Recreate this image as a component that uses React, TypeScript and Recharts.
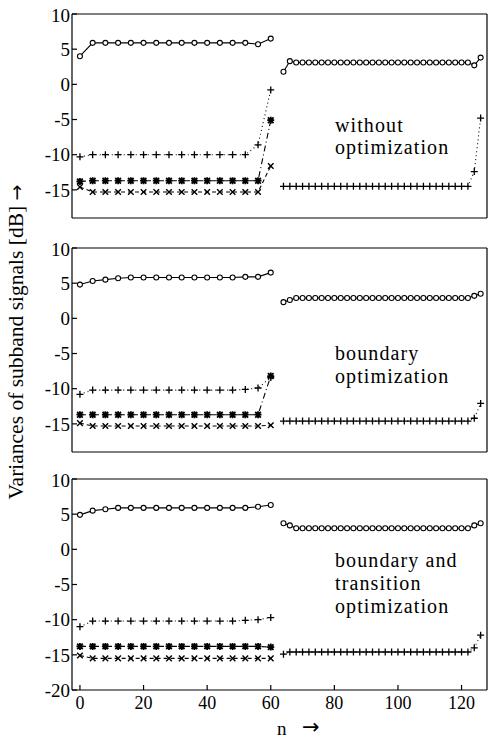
import { LineChart, Line, XAxis, YAxis } from 'recharts';

// sample positions: 4 subbands decimated by 4 in the first half, 2 subbands decimated by 2 after
const N_LOW = [0, 4, 8, 12, 16, 20, 24, 28, 32, 36, 40, 44, 48, 52, 56, 60];
const N_HIGH = [
  64, 66, 68, 70, 72, 74, 76, 78, 80, 82, 84, 86, 88, 90, 92, 94,
  96, 98, 100, 102, 104, 106, 108, 110, 112, 114, 116, 118, 120, 122, 124, 126,
];

const X_TICKS = [0, 20, 40, 60, 80, 100, 120];
const Y_TICKS_UPPER = [-15, -10, -5, 0, 5, 10];
const Y_TICKS_LOWER = [-20, -15, -10, -5, 0, 5, 10];

// without optimization
const A_CIRCLE_LOW = [4.0, 5.9, 5.9, 5.9, 5.9, 5.9, 5.9, 5.9, 5.9, 5.9, 5.9, 5.9, 5.9, 5.9, 5.7, 6.5];
const A_PLUS_LOW = [-10.3, -10.0, -10.0, -10.0, -10.0, -10.0, -10.0, -10.0, -10.0, -10.0, -10.0, -10.0, -10.0, -10.0, -8.6, -0.8];
const A_STAR_LOW = [-13.8, -13.7, -13.7, -13.7, -13.7, -13.7, -13.7, -13.7, -13.7, -13.7, -13.7, -13.7, -13.7, -13.7, -13.7, -5.1];
const A_CROSS_LOW = [-14.6, -15.3, -15.3, -15.3, -15.3, -15.3, -15.3, -15.3, -15.3, -15.3, -15.3, -15.3, -15.3, -15.3, -15.3, -11.6];
const A_CIRCLE_HIGH = [
  1.8, 3.3, 3.1, 3.1, 3.1, 3.1, 3.1, 3.1, 3.1, 3.1, 3.1, 3.1, 3.1, 3.1, 3.1, 3.1,
  3.1, 3.1, 3.1, 3.1, 3.1, 3.1, 3.1, 3.1, 3.1, 3.1, 3.1, 3.1, 3.1, 3.1, 2.7, 3.8,
];
const A_PLUS_HIGH = [
  -14.5, -14.5, -14.5, -14.5, -14.5, -14.5, -14.5, -14.5, -14.5, -14.5, -14.5, -14.5, -14.5, -14.5, -14.5, -14.5,
  -14.5, -14.5, -14.5, -14.5, -14.5, -14.5, -14.5, -14.5, -14.5, -14.5, -14.5, -14.5, -14.5, -14.5, -12.4, -4.8,
];

// boundary optimization
const B_CIRCLE_LOW = [4.8, 5.3, 5.5, 5.7, 5.8, 5.8, 5.8, 5.8, 5.8, 5.8, 5.8, 5.8, 5.8, 5.9, 5.9, 6.5];
const B_PLUS_LOW = [-10.8, -10.2, -10.2, -10.2, -10.2, -10.2, -10.2, -10.2, -10.2, -10.2, -10.2, -10.2, -10.2, -10.1, -9.9, -8.4];
const B_STAR_LOW = [-13.7, -13.7, -13.7, -13.7, -13.7, -13.7, -13.7, -13.7, -13.7, -13.7, -13.7, -13.7, -13.7, -13.7, -13.7, -8.2];
const B_CROSS_LOW = [-14.9, -15.3, -15.3, -15.3, -15.3, -15.3, -15.3, -15.3, -15.3, -15.3, -15.3, -15.3, -15.3, -15.3, -15.3, -15.2];
const B_CIRCLE_HIGH = [
  2.3, 2.6, 2.9, 2.9, 2.9, 2.9, 2.9, 2.9, 2.9, 2.9, 2.9, 2.9, 2.9, 2.9, 2.9, 2.9,
  2.9, 2.9, 2.9, 2.9, 2.9, 2.9, 2.9, 2.9, 2.9, 2.9, 2.9, 2.9, 2.9, 2.9, 3.2, 3.5,
];
const B_PLUS_HIGH = [
  -14.6, -14.6, -14.6, -14.6, -14.6, -14.6, -14.6, -14.6, -14.6, -14.6, -14.6, -14.6, -14.6, -14.6, -14.6, -14.6,
  -14.6, -14.6, -14.6, -14.6, -14.6, -14.6, -14.6, -14.6, -14.6, -14.6, -14.6, -14.6, -14.6, -14.6, -14.2, -12.1,
];

// boundary and transition optimization
const C_CIRCLE_LOW = [4.9, 5.5, 5.7, 5.9, 5.9, 5.9, 5.9, 5.9, 5.9, 5.9, 5.9, 5.9, 5.9, 5.9, 6.05, 6.3];
const C_PLUS_LOW = [-11.0, -10.2, -10.2, -10.2, -10.2, -10.2, -10.2, -10.2, -10.2, -10.2, -10.2, -10.2, -10.2, -10.1, -10.0, -9.7];
const C_STAR_LOW = [-13.8, -13.8, -13.8, -13.8, -13.8, -13.8, -13.8, -13.8, -13.8, -13.8, -13.8, -13.8, -13.8, -13.8, -13.8, -13.9];
const C_CROSS_LOW = [-15.1, -15.5, -15.5, -15.5, -15.5, -15.5, -15.5, -15.5, -15.5, -15.5, -15.5, -15.5, -15.5, -15.5, -15.5, -15.5];
const C_CIRCLE_HIGH = [
  3.7, 3.4, 3.0, 3.0, 3.0, 3.0, 3.0, 3.0, 3.0, 3.0, 3.0, 3.0, 3.0, 3.0, 3.0, 3.0,
  3.0, 3.0, 3.0, 3.0, 3.0, 3.0, 3.0, 3.0, 3.0, 3.0, 3.0, 3.0, 3.0, 3.0, 3.4, 3.7,
];
const C_PLUS_HIGH = [
  -14.9, -14.6, -14.6, -14.6, -14.6, -14.6, -14.6, -14.6, -14.6, -14.6, -14.6, -14.6, -14.6, -14.6, -14.6, -14.6,
  -14.6, -14.6, -14.6, -14.6, -14.6, -14.6, -14.6, -14.6, -14.6, -14.6, -14.6, -14.6, -14.6, -14.6, -14.0, -12.2,
];

type Shape = 'o' | '+' | '*' | 'x';

const DASH: Record<Shape, string | undefined> = {
  o: undefined,
  '+': '1 3',
  '*': '6 3 1 3',
  x: '4 3',
};

const FONT = '"Liberation Serif", "Times New Roman", serif';
const ARROW_FONT = '"DejaVu Sans", sans-serif';

const toRows = (ns: number[], vs: number[]) => ns.map((n, i) => ({ n, v: vs[i] }));

const makeDot = (shape: Shape) => (props: any) => {
  const { cx, cy, index } = props;
  const key = `d-${shape}-${index}`;
  if (cx == null || cy == null) return <g key={key} />;
  if (shape === 'o') {
    return <circle key={key} cx={cx} cy={cy} r={2.5} fill="#fff" stroke="#000" strokeWidth={1.1} />;
  }
  const s = 3.5;
  const plus = `M${cx - s},${cy}H${cx + s}M${cx},${cy - s}V${cy + s}`;
  const d = s * 0.8;
  const cross = `M${cx - d},${cy - d}L${cx + d},${cy + d}M${cx - d},${cy + d}L${cx + d},${cy - d}`;
  if (shape === '+') return <path key={key} d={plus} stroke="#000" strokeWidth={1.3} fill="none" />;
  if (shape === 'x') return <path key={key} d={cross} stroke="#000" strokeWidth={1.4} fill="none" />;
  return <path key={key} d={plus + cross} stroke="#000" strokeWidth={1.8} fill="none" />;
};

interface Series {
  shape: Shape;
  ns: number[];
  vs: number[];
}

interface PanelProps {
  top: number;
  plotHeight: number;
  yMin: number;
  yTicks: number[];
  showXLabels: boolean;
  series: Series[];
}

const Panel = ({ top, plotHeight, yMin, yTicks, showXLabels, series }: PanelProps) => (
  <div style={{ position: 'absolute', left: 0, top }}>
    <LineChart width={490} height={10 + plotHeight + 30} margin={{ top: 9, right: 2, bottom: 0, left: 0 }}>
      <XAxis
        xAxisId="b"
        type="number"
        dataKey="n"
        domain={[-2.5, 128]}
        ticks={X_TICKS}
        allowDataOverflow
        height={30}
        stroke="#000"
        strokeWidth={1.2}
        tickSize={-5}
        tickMargin={11}
        tick={showXLabels ? { fill: '#000', fontSize: 18, fontFamily: FONT } : false}
      />
      <XAxis
        xAxisId="t"
        orientation="top"
        type="number"
        dataKey="n"
        domain={[-2.5, 128]}
        ticks={X_TICKS}
        allowDataOverflow
        height={1}
        stroke="#000"
        strokeWidth={1.2}
        tickSize={-5}
        tick={false}
      />
      <YAxis
        yAxisId="l"
        type="number"
        domain={[yMin, 10]}
        ticks={yTicks}
        allowDataOverflow
        width={72}
        stroke="#000"
        strokeWidth={1.2}
        tickSize={-5}
        tickMargin={7}
        tick={{ fill: '#000', fontSize: 19, fontFamily: FONT }}
      />
      <YAxis
        yAxisId="r"
        orientation="right"
        type="number"
        domain={[yMin, 10]}
        ticks={yTicks}
        allowDataOverflow
        width={1}
        stroke="#000"
        strokeWidth={1.2}
        tickSize={-5}
        tick={false}
      />
      {series.map((s, i) => (
        <Line
          key={i}
          xAxisId="b"
          yAxisId="l"
          data={toRows(s.ns, s.vs)}
          dataKey="v"
          stroke="#000"
          strokeWidth={1.1}
          strokeDasharray={DASH[s.shape]}
          dot={makeDot(s.shape)}
          activeDot={false}
          isAnimationActive={false}
        />
      ))}
    </LineChart>
  </div>
);

const seriesFor = (
  circLow: number[], plusLow: number[], starLow: number[], crossLow: number[],
  circHigh: number[], plusHigh: number[],
): Series[] => [
  { shape: 'x', ns: N_LOW, vs: crossLow },
  { shape: '*', ns: N_LOW, vs: starLow },
  { shape: '+', ns: N_LOW, vs: plusLow },
  { shape: 'o', ns: N_LOW, vs: circLow },
  { shape: '+', ns: N_HIGH, vs: plusHigh },
  { shape: 'o', ns: N_HIGH, vs: circHigh },
];

const textStyle = { fontFamily: FONT, fontSize: 20, letterSpacing: 1.1, fill: '#000' };

export default function App() {
  return (
    <div style={{ position: 'absolute', left: 0, top: 0, width: 490, height: 744, background: '#fff', overflow: 'hidden' }}>
      <Panel
        top={4}
        plotHeight={204}
        yMin={-19}
        yTicks={Y_TICKS_UPPER}
        showXLabels={false}
        series={seriesFor(A_CIRCLE_LOW, A_PLUS_LOW, A_STAR_LOW, A_CROSS_LOW, A_CIRCLE_HIGH, A_PLUS_HIGH)}
      />
      <Panel
        top={238}
        plotHeight={204}
        yMin={-19}
        yTicks={Y_TICKS_UPPER}
        showXLabels={false}
        series={seriesFor(B_CIRCLE_LOW, B_PLUS_LOW, B_STAR_LOW, B_CROSS_LOW, B_CIRCLE_HIGH, B_PLUS_HIGH)}
      />
      <Panel
        top={469}
        plotHeight={211}
        yMin={-20}
        yTicks={Y_TICKS_LOWER}
        showXLabels
        series={seriesFor(C_CIRCLE_LOW, C_PLUS_LOW, C_STAR_LOW, C_CROSS_LOW, C_CIRCLE_HIGH, C_PLUS_HIGH)}
      />
      <svg width={490} height={744} style={{ position: 'absolute', left: 0, top: 0, pointerEvents: 'none' }}>
        <text x={335} y={132} style={textStyle}>without</text>
        <text x={335} y={154} style={textStyle}>optimization</text>
        <text x={335} y={360} style={textStyle}>boundary</text>
        <text x={335} y={383} style={textStyle}>optimization</text>
        <text x={335} y={567} style={textStyle}>boundary and</text>
        <text x={335} y={590} style={textStyle}>transition</text>
        <text x={335} y={613} style={textStyle}>optimization</text>
        <text x={277} y={735} fontFamily={FONT} fontSize={19} fill="#000">n</text>
        <text x={302} y={734} fontFamily={ARROW_FONT} fontSize={21} fill="#000">→</text>
        <text
          x={23}
          y={342}
          textAnchor="middle"
          transform="rotate(-90, 23, 342)"
          fontFamily={FONT}
          fontSize={21.5}
          fill="#000"
        >
          Variances of subband signals [dB]{' '}
          <tspan fontFamily={ARROW_FONT} fontSize={19}>→</tspan>
        </text>
      </svg>
    </div>
  );
}
